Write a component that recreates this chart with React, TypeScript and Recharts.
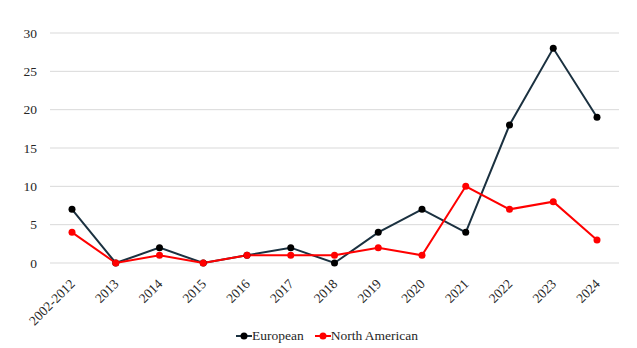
import { LineChart, Line, XAxis, YAxis, CartesianGrid, Legend } from "recharts";

const years = ["2002-2012", "2013", "2014", "2015", "2016", "2017", "2018", "2019", "2020", "2021", "2022", "2023", "2024"];
const european = [7, 0, 2, 0, 1, 2, 0, 4, 7, 4, 18, 28, 19];
const northAmerican = [4, 0, 1, 0, 1, 1, 1, 2, 1, 10, 7, 8, 3];
const yTicks = [0, 5, 10, 15, 20, 25, 30];

const data = years.map((year, i) => ({ year, European: european[i], "North American": northAmerican[i] }));

const font = "'Liberation Serif'";
const seriesColors: Record<string, { line: string; dot: string }> = {
  European: { line: "#1b3140", dot: "#000000" },
  "North American": { line: "#ff0000", dot: "#ff0000" },
};

function LegendContent() {
  return (
    <div style={{ height: 25, display: "flex", justifyContent: "flex-start", alignItems: "center", paddingLeft: 236, fontFamily: font, fontSize: 13.5, color: "#262626" }}>
      {Object.entries(seriesColors).map(([name, c]) => (
        <span key={name} style={{ display: "inline-flex", alignItems: "center", marginRight: 11 }}>
          <svg width={16} height={10}>
            <line x1={0} y1={5} x2={16} y2={5} stroke={c.line} strokeWidth={2} />
            <circle cx={8} cy={5} r={3.5} fill={c.dot} />
          </svg>
          {name}
        </span>
      ))}
    </div>
  );
}

export default function App() {
  return (
    <div style={{ position: "fixed", left: 0, top: 0, background: "#fff", fontFamily: font }}>
      <LineChart width={637} height={348} data={data} margin={{ top: 33, right: 18, left: 0, bottom: 0 }} style={{ fontFamily: font }}>
        <CartesianGrid vertical={false} stroke="#d9d9d9" />
        <XAxis
          dataKey="year"
          axisLine={false}
          tickLine={false}
          interval={0}
          height={60}
          angle={-45}
          textAnchor="end"
          padding={{ left: 22, right: 22 }}
          tick={{ fill: "#262626", fontSize: 13.5, fontFamily: font }}
          dy={7}
          dx={-3}
        />
        <YAxis
          domain={[0, 30]}
          ticks={yTicks}
          axisLine={false}
          tickLine={false}
          width={50}
          tick={{ fill: "#262626", fontSize: 13.5, fontFamily: font }}
          dx={-5}
        />
        <Legend verticalAlign="bottom" content={() => <LegendContent />} />
        {Object.entries(seriesColors).map(([name, c]) => (
          <Line
            key={name}
            type="linear"
            dataKey={name}
            stroke={c.line}
            strokeWidth={2}
            dot={{ r: 3.5, fill: c.dot, stroke: c.dot, strokeWidth: 0 }}
            activeDot={false}
            isAnimationActive={false}
          />
        ))}
      </LineChart>
    </div>
  );
}
